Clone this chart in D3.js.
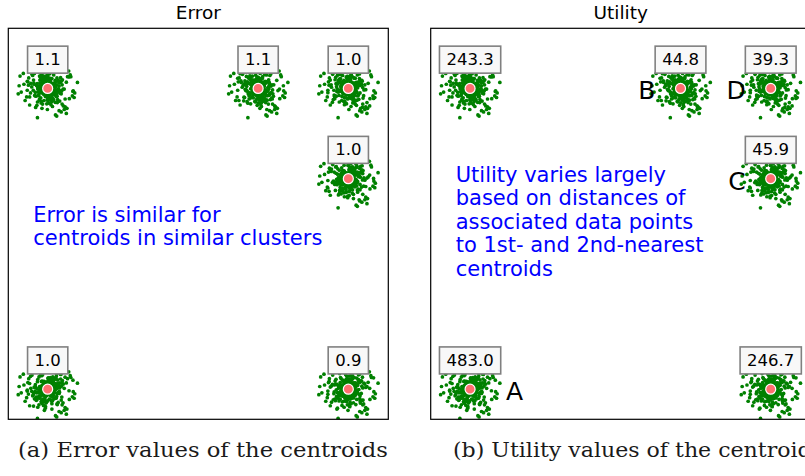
<!DOCTYPE html>
<html>
<head>
<meta charset="utf-8">
<script src="https://cdn.jsdelivr.net/npm/d3@7"></script>
<style>
	body{ margin:0; background:#fff; }
	svg{ display:block; }
</style>
</head>
<body>
<div id="chart"></div>
<script>
/*global d3*/

//centroid locations (data units)
var centroidX = [0, 7, 10, 10, 0, 10];
var centroidY = [10, 10, 10, 7, 0, 0];

//values shown in the boxes
var errorValues = ["1.1", "1.1", "1.0", "1.0", "1.0", "0.9"];
var utilityValues = ["243.3", "44.8", "39.3", "45.9", "483.0", "246.7"];

//letters in the utility panel: centroid index, side
var letterNames = ["A", "B", "C", "D"];
var letterCentroid = [4, 1, 3, 2];
var letterSide = ["right", "left", "left", "left"];

//offsets of data points around their centroid, hundredths of a unit
var offX = [12,-25,4,37,-8,-41,19,2,-15,28,-3,51,-22,9,-33,17,-6,44,-19,0,
	26,-12,7,-29,35,-47,14,-2,21,-37,5,62,-10,-24,31,-5,11,-56,23,-16,
	8,39,-27,-1,18,-44,29,-9,3,-20,47,-35,13,-7,25,-13,66,-30,1,16,
	-4,34,-23,10,-50,22,-11,40,-18,6,-38,27,-14,58,-26,15,-2,32,-45,20,
	-8,43,-31,3,-17,24,-60,11,-21,36,-6,49,-28,14,-3,30,-40,9,-12,71,
	-24,5,19,-34,38,-1,-15,26,-48,7,33,-19,2,-9,45,-27,17,-36,28,-4,
	14,-21,55,-6,10,-32,4,23,-43,-11,37,1,-26,18,-7,29,-53,6,-16,41,
	-2,20,-39,13,-14,52,-25,8,31,-5,-68,16,-20,42,-10,3,-30,24,-1,12,
	35,-18,6,-46,27,-8,15,-33,48,-3,21,-12,-57,9,30,-22,2,39,-15,-27,
	7,-36,25,-5,84,-19,11,-42,17,1,-13,34,-29,4,-9,46,-24,19,-64,10,
	//dense core
	-3,8,-12,5,14,-7,2,-18,10,-1,6,-9,17,-4,11,-14,0,20,-6,3,
	9,-16,4,-2,13,-10,7,-20,1,15,-5,12,-8,22,-13,6,-3,18,-11,2,
	-15,5,10,-6,0,16,-19,8,-4,12,-9,3,21,-12,7,-1,14,-17,4,-7,
	11,-2,-10,19,-5,8,-14,1,9,-22,6,-8,13,2,-11,17,-3,10,-16,4,
	-6,15,-1,-13,7,20,-9,3,-18,11,-4,6,24,-7,1,-12,9,-2,16,-10,
	//sparse outliers
	72,-81,45,-66,90,-38,58,-95,30,-52,77,-70,41,-88,64,-29,99,-60,35,-75,
	55,-44,82,-92,26,-68,70,-34,88,-57,48,-79,62,-40,75,-98,38,-63,85,-50];
var offY = [-18,7,31,-4,22,-13,-36,9,41,-27,15,-2,-48,26,3,-20,34,-9,12,-31,
	5,-40,19,-15,-1,28,-23,44,-7,10,-33,21,-11,37,-26,2,-54,17,-6,30,
	-14,24,-3,-38,11,50,-19,6,-29,33,-8,16,-44,1,27,-12,39,-24,8,-60,
	20,-5,-31,13,43,-17,3,-42,25,-10,57,-22,9,-35,18,-1,30,-47,14,-7,
	-25,36,-11,4,-52,19,-28,10,46,-3,-16,29,-39,7,22,-9,-63,15,-20,38,
	2,-30,17,-45,8,-14,32,-21,-6,49,-37,12,-1,26,-18,41,-10,-56,23,-4,
	33,-12,-2,21,-34,6,-49,14,-23,3,18,-41,28,-8,-27,11,5,-32,52,-16,
	-9,45,-26,1,16,-58,9,-19,35,-12,24,-3,-43,20,-6,31,-22,13,-70,4,
	27,-7,-37,18,-13,40,-30,-2,12,-51,7,23,-15,34,-25,-4,48,-11,19,-35,
	-21,10,-46,29,-10,-66,15,-24,6,39,-18,-5,55,-33,2,25,-14,-39,11,80,
	//dense core
	7,-11,2,16,-5,9,-14,4,-1,19,-8,12,0,-17,6,-3,13,-9,21,-6,
	-12,3,10,-20,5,-2,15,-7,11,-15,1,8,-18,-4,14,-10,6,2,-13,17,
	9,-6,-16,12,-3,4,20,-9,7,-1,-14,10,-5,18,-11,3,-8,15,-2,-19,
	13,5,-7,-12,22,-4,8,-15,1,11,-9,16,-1,-6,19,-13,4,9,-17,6,
	-10,2,14,-3,-21,7,-8,12,0,-15,18,-5,3,-11,10,-7,24,-14,5,-2,
	//sparse outliers
	-34,50,-78,22,-15,84,-61,9,-92,47,39,-28,73,-12,-66,95,20,-55,81,-40,
	-70,63,-25,41,-88,-6,58,-97,-30,66,-52,14,-83,76,45,-18,-74,35,-8,90];

var panelTitles = ["Error", "Utility"];
var captions = ["(a) Error values of the centroids", "(b) Utility values of the centroids"];
var notes = [
	["Error is similar for", "centroids in similar clusters"],
	["Utility varies largely", "based on distances of", "associated data points", "to 1st- and 2nd-nearest", "centroids"]
];

var width = 805, height = 476;
var panelW = 380, panelH = 391;
var panelLeft = [8.3, 430.7];
var panelTop = 28.3;

var svg = d3.select("#chart").append("svg")
	.attr("width", width)
	.attr("height", height);

var xScale = d3.scaleLinear().domain([-1.31, 11.33]).range([0, panelW]);
var yScale = d3.scaleLinear().domain([-1.0, 12.0]).range([panelH, 0]);

//building point list once, each cluster pairs the offsets a bit differently
//(shift only inside the main and core blocks, outliers keep their pairs)
var blocks = [[0, 200, 23], [200, 300, 37], [300, 340, 0]];
var points = [];
for(var c = 0; c < centroidX.length; c++){
	blocks.forEach(function(b){
		var n = b[1] - b[0];
		for(var j = 0; j < n; j++){
			var k = b[0] + (j + b[2]*c) % n;
			points.push([centroidX[c] + offX[b[0] + j]/100, centroidY[c] + offY[k]/100]);
		}
	});
}

function drawPanel(p, values){
	var g = svg.append("g").attr("transform", "translate(" + panelLeft[p] + "," + panelTop + ")");

	g.append("clipPath").attr("id", "clip" + p)
		.append("rect").attr("width", panelW).attr("height", panelH);

	//title
	svg.append("text")
		.attr("x", panelLeft[p] + panelW/2)
		.attr("y", 18.5)
		.attr("text-anchor", "middle")
		.style("font-family", "DejaVu Sans")
		.style("font-size", "18.5px")
		.text(panelTitles[p]);

	var plot = g.append("g").attr("clip-path", "url(#clip" + p + ")");

	//data points
	plot.append("g").attr("class", "pts").selectAll("circle").data(points).enter().append("circle")
		.attr("cx", function(d){return xScale(d[0]);})
		.attr("cy", function(d){return yScale(d[1]);})
		.attr("r", 1.85)
		.style("fill", "#008000");

	//centroids
	var cents = d3.range(centroidX.length);
	plot.append("g").selectAll("circle").data(cents).enter().append("circle")
		.attr("cx", function(i){return xScale(centroidX[i]);})
		.attr("cy", function(i){return yScale(centroidY[i]);})
		.attr("r", 5)
		.style("fill", "#ff6f6f")
		.style("stroke", "#fff")
		.style("stroke-width", 1.2);

	//value boxes
	cents.forEach(function(i){
		var cx = xScale(centroidX[i]);
		var cy = yScale(centroidY[i]);
		var lab = plot.append("g");
		var rect = lab.append("rect");
		var t = lab.append("text")
			.attr("x", cx)
			.attr("y", cy - 23.5)
			.attr("text-anchor", "middle")
			.style("font-family", "DejaVu Sans")
			.style("font-size", "16.5px")
			.text(values[i]);
		var w = t.node().getComputedTextLength() + 14;
		rect.attr("x", cx - w/2)
			.attr("y", cy - 42.3)
			.attr("width", w)
			.attr("height", 27)
			.style("fill", "#f8f8f8")
			.style("stroke", "#808080")
			.style("stroke-width", 1.6);
	});

	//letters
	if(p === 1){
		letterNames.forEach(function(name, n){
			var i = letterCentroid[n];
			var left = letterSide[n] === "left";
			plot.append("text")
				.attr("x", xScale(centroidX[i]) + (left ? -25 : 36))
				.attr("y", yScale(centroidY[i]) + 11)
				.attr("text-anchor", left ? "end" : "start")
				.style("font-family", "DejaVu Sans")
				.style("font-size", "25px")
				.text(name);
		});
	}

	//note in blue
	var noteY = p === 0 ? 193.4 : 153.4;
	notes[p].forEach(function(line, n){
		g.append("text")
			.attr("x", 25)
			.attr("y", noteY + n*23.5)
			.style("font-family", "DejaVu Sans")
			.style("font-size", "21px")
			.style("fill", "#0000ff")
			.text(line);
	});

	//frame
	g.append("rect")
		.attr("width", panelW)
		.attr("height", panelH)
		.style("fill", "none")
		.style("stroke", "#000")
		.style("stroke-width", 1.2);

	//caption
	var cap = svg.append("text")
		.attr("x", p === 0 ? 18 : 453)
		.attr("y", 457)
		.style("font-family", "DejaVu Serif")
		.style("font-size", "20px")
		.style("fill", "#1a1a1a")
		.text(captions[p]);
	cap.attr("textLength", 370).attr("lengthAdjust", "spacingAndGlyphs");
}

drawPanel(0, errorValues);
drawPanel(1, utilityValues);
</script>
</body>
</html>
